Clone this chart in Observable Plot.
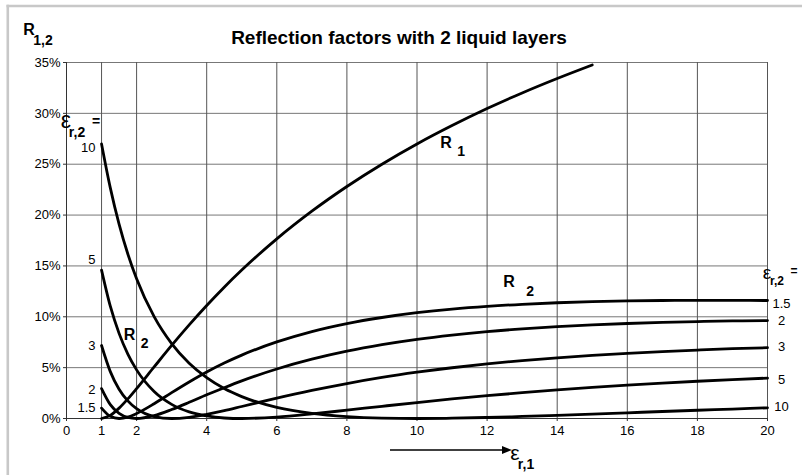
<!DOCTYPE html>
<html><head><meta charset="utf-8">
<script src="https://cdn.jsdelivr.net/npm/d3@7"></script>
<script src="https://cdn.jsdelivr.net/npm/@observablehq/plot@0.6"></script>
<style>
body{margin:0;background:#fff;}
#chart{position:relative;width:802px;height:475px;overflow:hidden;}
</style></head><body><div id="chart"></div>
<script>
// ---- data ----
const eps1 = [1,1.25,1.5,1.75,2,2.5,3,3.5,4,4.5,5,6,7,8,9,10,11,12,13,14,15,16,17,18,19,20];
// R1 (%) for eps1 = 1 .. 15
const r1 = [0,0.31,1.02,1.93,2.94,5.07,7.18,9.20,11.11,12.91,14.59,17.66,20.38,22.81,25.00,26.99,28.80,30.47,32.01,33.43,34.76];
const er2 = ["1.5","2","3","5","10"];
const r2_15 = [1.02,0.21,0,0.14,0.49,1.45,2.54,3.59,4.57,5.45,6.23,7.53,8.55,9.33,9.93,10.40,10.76,11.03,11.23,11.38,11.49,11.56,11.60,11.62,11.61,11.60];
const r2_2  = [2.94,1.36,0.51,0.11,0,0.28,0.88,1.59,2.33,3.03,3.70,4.87,5.83,6.62,7.26,7.78,8.20,8.54,8.81,9.03,9.20,9.34,9.45,9.53,9.59,9.63];
const r2_3  = [7.18,4.61,2.88,1.73,0.96,0.19,0,0.12,0.41,0.77,1.18,2.00,2.76,3.44,4.04,4.55,4.99,5.37,5.70,5.97,6.21,6.41,6.58,6.73,6.86,6.96];
const r2_5  = [14.59,11.04,8.37,6.33,4.78,2.65,1.39,0.65,0.25,0.05,0,0.14,0.45,0.82,1.20,1.57,1.92,2.24,2.54,2.81,3.06,3.28,3.48,3.66,3.82,3.97];
const r2_10 = [26.99,22.67,19.11,16.17,13.74,10.01,7.36,5.43,4.01,2.94,2.15,1.09,0.50,0.19,0.04,0,0.03,0.10,0.20,0.31,0.43,0.56,0.69,0.81,0.93,1.05];
const xTicks = [0,1,2,4,6,8,10,12,14,16,18,20];
const yTicks = [0,5,10,15,20,25,30,35];
const title = "Reflection factors with 2 liquid layers";
const annotations = [
  {x:10.66, y:27.1, main:"R", sub:"1"},
  {x:12.46, y:13.4, main:"R", sub:"2"},
  {x:1.63,  y:8.26, main:"R", sub:"2"}
];

// ---- build ----
const seriesVals = [r2_15, r2_2, r2_3, r2_5, r2_10];
const series = er2.map((e, i) => ({e2: e, v: seriesVals[i]}));
const rows = series.flatMap(s => s.v.map((v, i) => ({x: eps1[i], y: v, s: s.e2})));
const r1rows = r1.map((v, i) => ({x: eps1[i], y: v}));
const font = "'Liberation Sans', Arial, Helvetica, sans-serif";

const leftDy = [0, 1, 0, -10, 3.5];
const rightDy = [3, 0, -1, 2, -1];
const subDx = [17, 23, 17];

const marks = [
  Plot.ruleY(yTicks.slice(1), {stroke: "#777", strokeWidth: 1}),
  Plot.ruleX(xTicks.slice(1), {stroke: "#555", strokeWidth: 1}),
  Plot.ruleX([0], {stroke: "#333", strokeWidth: 1}),
  Plot.ruleY([0], {stroke: "#333", strokeWidth: 1}),
  Plot.axisX({ticks: xTicks, tickSize: 3, tickPadding: 4, fontSize: 13, label: null, stroke: "#333"}),
  Plot.axisY({ticks: yTicks, tickSize: 3, tickPadding: 3, fontSize: 13, label: null, tickFormat: d => d + "%", stroke: "#333"}),
  Plot.line(rows, {x: "x", y: "y", z: "s", stroke: "#000", strokeWidth: 2.8, curve: "monotone-x"}),
  Plot.line(r1rows, {x: "x", y: "y", stroke: "#000", strokeWidth: 2.8, curve: "monotone-x"})
];
series.forEach((s, i) => {
  marks.push(Plot.text([s], {x: () => eps1[0], y: d => d.v[0], text: "e2", textAnchor: "end", dx: -6, dy: leftDy[i], fontSize: 13, fill: "#000"}));
  marks.push(Plot.text([s], {x: () => eps1[eps1.length - 1], y: d => d.v[d.v.length - 1], text: "e2", textAnchor: "middle", dx: 14, dy: rightDy[i], fontSize: 13, fill: "#000"}));
});
annotations.forEach((a, i) => {
  marks.push(Plot.text([a], {x: "x", y: "y", text: "main", textAnchor: "start", fontSize: 16, fontWeight: "bold", fill: "#000"}));
  marks.push(Plot.text([a], {x: "x", y: "y", text: "sub", textAnchor: "start", dx: subDx[i], dy: 9, fontSize: 14, fontWeight: "bold", fill: "#000"}));
});

const svg = Plot.plot({
  width: 802, height: 475,
  marginLeft: 66, marginRight: 35, marginTop: 62, marginBottom: 57,
  style: {fontFamily: font, fontSize: "13px", color: "#000", background: "#fff", overflow: "visible"},
  x: {domain: [0, 20]},
  y: {domain: [0, 35]},
  marks
});
document.getElementById("chart").appendChild(svg);

// ---- titles, axis labels, frame ----
const g = d3.select(svg).append("g").attr("font-family", font).attr("fill", "#000");
g.append("line").attr("x1", 7.8).attr("x2", 7.8).attr("y1", 4.7).attr("y2", 475).attr("stroke", "#c8c8c8").attr("stroke-width", 2.6);
g.append("line").attr("x1", 6.5).attr("x2", 802).attr("y1", 6).attr("y2", 6).attr("stroke", "#c8c8c8").attr("stroke-width", 2.6);
g.append("text").attr("x", 399).attr("y", 43.5).attr("text-anchor", "middle").attr("font-size", 19).attr("font-weight", "bold").text(title);
// R 1,2
g.append("text").attr("x", 29).attr("y", 34.5).attr("font-size", 16).attr("font-weight", "bold").text("R");
g.append("text").attr("x", 43).attr("y", 45).attr("font-size", 14).attr("font-weight", "bold").text("1,2");
// left eps r,2 =
g.append("text").attr("x", 66).attr("y", 128).attr("font-size", 23).text("ε");
g.append("text").attr("x", 77).attr("y", 137).attr("font-size", 14).attr("font-weight", "bold").text("r,2");
g.append("text").attr("x", 96).attr("y", 126).attr("font-size", 14).attr("font-weight", "bold").text("=");
// right eps r,2 =
g.append("text").attr("x", 767).attr("y", 278.5).attr("font-size", 19).text("ε");
g.append("text").attr("x", 777).attr("y", 285).attr("font-size", 12).attr("font-weight", "bold").text("r,2");
g.append("text").attr("x", 794).attr("y", 275).attr("font-size", 12).attr("font-weight", "bold").text("=");
// arrow + eps r,1
g.append("line").attr("x1", 390).attr("x2", 505).attr("y1", 450).attr("y2", 450).attr("stroke", "#000").attr("stroke-width", 1.5);
g.append("path").attr("d", "M512,450 L502,446 L502,454 Z").attr("fill", "#000");
g.append("text").attr("x", 515).attr("y", 460).attr("font-size", 21).text("ε");
g.append("text").attr("x", 526).attr("y", 469).attr("font-size", 14).attr("font-weight", "bold").text("r,1");
</script></body></html>
